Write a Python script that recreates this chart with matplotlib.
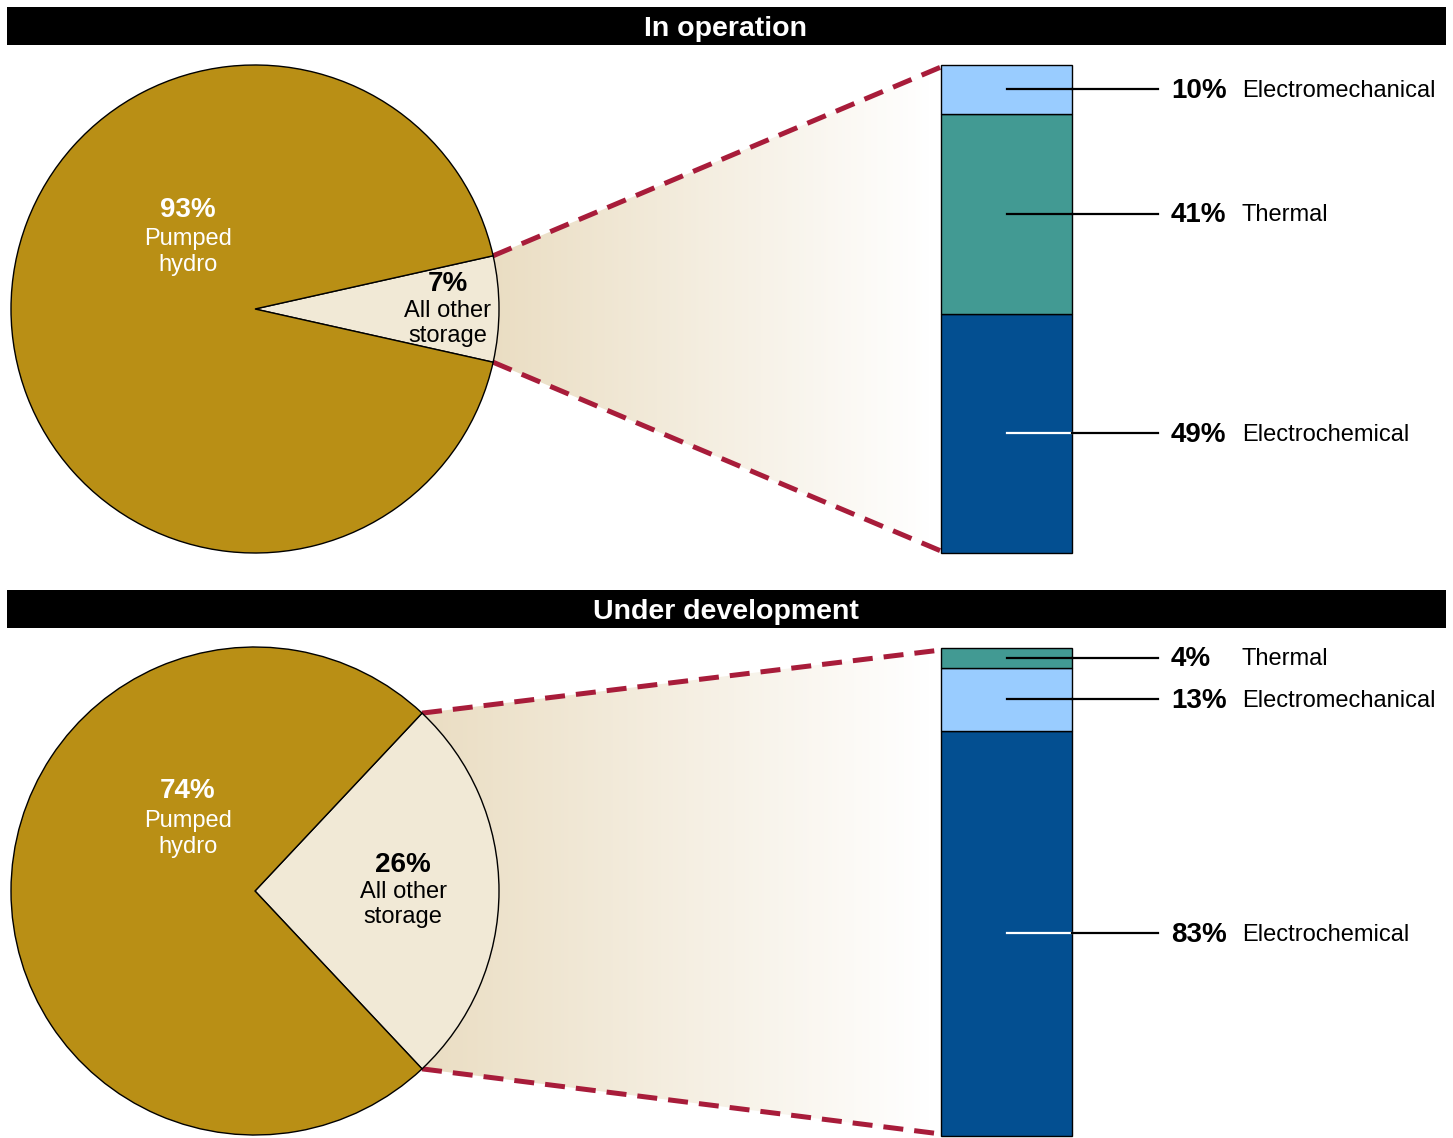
import matplotlib
matplotlib.use("Agg")
import matplotlib.pyplot as plt
import numpy as np
from matplotlib.colors import LinearSegmentedColormap
from matplotlib.patches import Polygon

plt.rcParams['font.family'] = ['Liberation Sans', 'DejaVu Sans']

# ---------------- data ----------------
panel_titles = ["In operation", "Under development"]
pie_labels = [["Pumped", "hydro"], ["All other", "storage"]]
pie_top = [93, 7]
pie_bottom = [74, 26]
bar_top_labels = ["Electromechanical", "Thermal", "Electrochemical"]      # top -> bottom
bar_top_values = [10, 41, 49]
bar_bottom_labels = ["Thermal", "Electromechanical", "Electrochemical"]   # top -> bottom
bar_bottom_values = [4, 13, 83]

# ---------------- styles ----------------
GOLD = "#B98F15"
BEIGE = "#F1E9D6"
GRAD_L = "#EADDC2"
RED = "#A81C3A"
BAR_COLORS = {"Electromechanical": "#99CCFF", "Thermal": "#429A93", "Electrochemical": "#034F91"}

W, H = 1453, 1138
fig = plt.figure(figsize=(W / 100, H / 100), dpi=100)
ax = fig.add_axes([0, 0, 1, 1])
ax.set_xlim(0, W)
ax.set_ylim(0, H)
ax.set_aspect("equal")
ax.axis("off")

def Y(py):
    return H - py

TDY = 2.5  # small text baseline offset (pixels, downward)

grad_cmap = LinearSegmentedColormap.from_list("g", [GRAD_L, "#FFFFFF"])

def panel(title, title_y, pie_vals, bar_labels, bar_vals, cy, bar_top_py, small_x):
    # title bar
    ax.add_patch(plt.Rectangle((7, Y(title_y + 19)), 1439, 38, facecolor="black",
                               edgecolor="none", zorder=5))
    ax.text(726, Y(title_y + TDY), title, color="white", fontsize=20.5, fontweight="bold",
            ha="center", va="center", zorder=6)

    cx, r = 255, 244
    big, small = pie_vals
    half = small / 100 * 360 / 2
    bx0, bw = 941, 131
    bh = 488
    btop = Y(bar_top_py)
    bbot = btop - bh

    ex = cx + r * np.cos(np.radians(half))
    ey_top = Y(cy) + r * np.sin(np.radians(half))
    ey_bot = Y(cy) - r * np.sin(np.radians(half))

    # gradient zoom area
    poly = Polygon([(cx, Y(cy)), (ex, ey_top), (bx0, btop - 2), (bx0, bbot + 2), (ex, ey_bot)],
                   closed=True, facecolor="none", edgecolor="none")
    ax.add_patch(poly)
    gx = np.linspace(0, 1, 256)
    im = ax.imshow(gx[None, :], cmap=grad_cmap, extent=[ex - 5, 930, bbot, btop],
                   aspect="auto", zorder=1, vmin=0, vmax=1)
    im.set_clip_path(poly)

    # dashed connectors
    for ey, by in [(ey_top, btop - 2), (ey_bot, bbot + 2)]:
        ax.plot([ex, bx0], [ey, by], color=RED, lw=3.6, ls=(0, (4, 2.2)), zorder=2,
                solid_capstyle="butt", dash_capstyle="butt")

    # pie
    wedges, _ = ax.pie([small, big], colors=[BEIGE, GOLD], startangle=-half,
                       center=(cx, Y(cy)), radius=r, frame=True,
                       wedgeprops=dict(edgecolor="black", linewidth=1.0))
    for w in wedges:
        w.set_zorder(3)
    ax.set_xlim(0, W)
    ax.set_ylim(0, H)
    ax.axis("off")

    # pie labels
    ax.text(188, Y(cy - 102 + TDY), f"{big}%", color="white", fontsize=20, fontweight="bold",
            ha="center", va="center", zorder=6)
    ax.text(188, Y(cy - 73 + TDY), pie_labels[0][0], color="white", fontsize=17,
            ha="center", va="center", zorder=6)
    ax.text(188, Y(cy - 47 + TDY), pie_labels[0][1], color="white", fontsize=17,
            ha="center", va="center", zorder=6)
    ax.text(small_x, Y(cy - 28 + TDY), f"{small}%", color="black", fontsize=20, fontweight="bold",
            ha="center", va="center", zorder=6)
    ax.text(small_x, Y(cy - 1 + TDY), pie_labels[1][0], color="black", fontsize=17,
            ha="center", va="center", zorder=6)
    ax.text(small_x, Y(cy + 24 + TDY), pie_labels[1][1], color="black", fontsize=17,
            ha="center", va="center", zorder=6)

    # stacked bar (stack from bottom: reverse order)
    vals = bar_vals[::-1]
    labs = bar_labels[::-1]
    bottom = bbot
    for v, lab in zip(vals, labs):
        h = bh * v / 100
        ax.bar(bx0, h, width=bw, bottom=bottom, align="edge", color=BAR_COLORS[lab],
               edgecolor="black", linewidth=1.0, zorder=4)
        ymid = bottom + h / 2
        inner_col = "white" if lab == "Electrochemical" else "black"
        ax.plot([1007, bx0 + bw], [ymid, ymid], color=inner_col, lw=1.6, zorder=5)
        ax.plot([bx0 + bw, 1158], [ymid, ymid], color="black", lw=1.6, zorder=5)
        ax.text(1171, ymid - TDY + 1, f"{v}%", fontsize=20, fontweight="bold", ha="left",
                va="center", zorder=6)
        ax.text(1242, ymid - TDY + 1, lab, fontsize=17, ha="left", va="center", zorder=6)
        bottom += h

panel(panel_titles[0], 26, pie_top, bar_top_labels, bar_top_values, 309, 65, 448)
panel(panel_titles[1], 609, pie_bottom, bar_bottom_labels, bar_bottom_values, 891, 648, 403)

ax.set_xlim(0, W)
ax.set_ylim(0, H)
fig.savefig("out.png", dpi=100, facecolor="white")
